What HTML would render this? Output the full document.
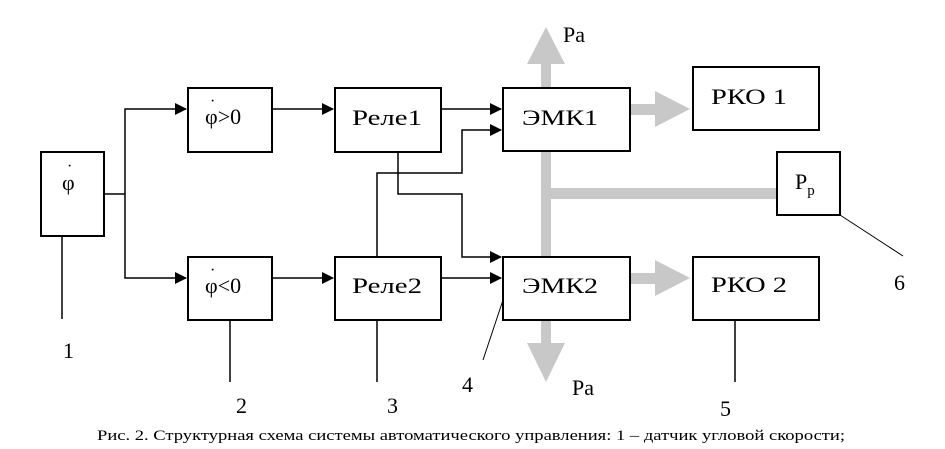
<!DOCTYPE html>
<html><head><meta charset="utf-8"><style>
html,body{margin:0;padding:0;background:#fff;}
svg{display:block;}
</style></head><body>
<svg width="945" height="449" viewBox="0 0 945 449" xmlns="http://www.w3.org/2000/svg" font-family="'Liberation Serif', 'Times New Roman', 'DejaVu Serif', serif">
<defs>
<marker id="a" markerWidth="12" markerHeight="12" refX="11" refY="6" orient="auto" markerUnits="userSpaceOnUse">
<path d="M0,0 L12,6 L0,12 Z" fill="#000"/></marker>
</defs>
<g fill="#c8c8c8">
<rect x="541" y="62" width="10" height="27"/>
<polygon points="527,64 565,64 546,27"/>
<rect x="541" y="151" width="10" height="107"/>
<rect x="551" y="188" width="227" height="11"/>
<rect x="541" y="319" width="10" height="26"/>
<polygon points="527,343 565,343 546,382"/>
<rect x="630" y="104" width="27" height="11"/>
<polygon points="655,91 690,109 655,127"/>
<rect x="630" y="273" width="27" height="11"/>
<polygon points="655,260 690,278 655,296"/>
</g>
<g fill="none" stroke="#000" stroke-width="2">
<rect x="41" y="152" width="63" height="84"/>
<rect x="188" y="88" width="84" height="64"/>
<rect x="188" y="257" width="84" height="63"/>
<rect x="335" y="88" width="106" height="64"/>
<rect x="335" y="257" width="106" height="63"/>
<rect x="503" y="88" width="127" height="63"/>
<rect x="503" y="257" width="127" height="63"/>
<rect x="693" y="67" width="126" height="63"/>
<rect x="693" y="257" width="126" height="63"/>
<rect x="777" y="152" width="63" height="63"/>
</g>
<g fill="none" stroke="#000" stroke-width="1.5">
<polyline points="104,194 125,194"/>
<polyline points="125,194 125,109 186,109" marker-end="url(#a)"/>
<polyline points="125,194 125,278 186,278" marker-end="url(#a)"/>
<polyline points="272,109 333,109" marker-end="url(#a)"/>
<polyline points="272,278 333,278" marker-end="url(#a)"/>
<polyline points="441,109 501,109" marker-end="url(#a)"/>
<polyline points="441,278 501,278" marker-end="url(#a)"/>
<polyline points="398,152 398,194 462,194 462,257 501,257" marker-end="url(#a)"/>
<polyline points="377,257 377,173 462,173 462,130 501,130" marker-end="url(#a)"/>
<line x1="62" y1="236" x2="62" y2="319"/>
<line x1="230" y1="320" x2="230" y2="382"/>
<line x1="377" y1="320" x2="377" y2="382"/>
<line x1="735" y1="320" x2="735" y2="382"/>
<line x1="840" y1="215" x2="903" y2="256" stroke-width="1"/>
<line x1="503" y1="300" x2="483" y2="360" stroke-width="1"/>
</g>
<g font-size="22" fill="#000">
<text x="62" y="190">φ</text><text x="67" y="171" font-size="16">·</text>
<text x="205" y="124">φ&gt;0</text><text x="210" y="106" font-size="16">·</text>
<text x="205" y="293">φ&lt;0</text><text x="210" y="275" font-size="16">·</text>
<text x="352" y="125" textLength="70" lengthAdjust="spacingAndGlyphs">Реле1</text>
<text x="352" y="293" textLength="70" lengthAdjust="spacingAndGlyphs">Реле2</text>
<text x="522" y="125" textLength="76" lengthAdjust="spacingAndGlyphs">ЭМК1</text>
<text x="522" y="293" textLength="76" lengthAdjust="spacingAndGlyphs">ЭМК2</text>
<text x="711" y="104" textLength="76" lengthAdjust="spacingAndGlyphs">РКО 1</text>
<text x="711" y="292" textLength="76" lengthAdjust="spacingAndGlyphs">РКО 2</text>
<text x="795" y="189">Р<tspan font-size="15" dy="6">р</tspan></text>
<text x="563" y="42">Ра</text>
<text x="572" y="395">Ра</text>
<text x="63" y="358">1</text>
<text x="236" y="413">2</text>
<text x="387" y="413">3</text>
<text x="462" y="392">4</text>
<text x="720" y="416">5</text>
<text x="894" y="290">6</text>
</g>
<text x="97" y="440" font-size="15" fill="#000" textLength="748" lengthAdjust="spacingAndGlyphs">Рис. 2. Структурная схема системы автоматического управления: 1 – датчик угловой скорости;</text>
</svg>
</body></html>
